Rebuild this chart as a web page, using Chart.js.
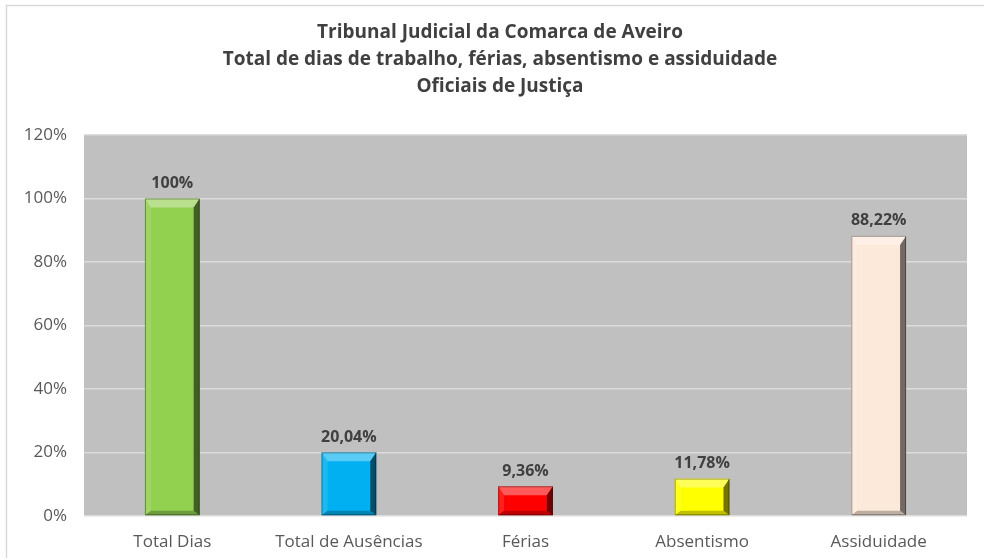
<!DOCTYPE html>
<html>
<head>
<meta charset="utf-8">
<script src="https://cdn.jsdelivr.net/npm/chart.js@4/dist/chart.umd.min.js"></script>
<style>
    html, body {margin: 0; padding: 0; background: #fff;}
    #wrap {width: 984px; height: 558px; position: relative;}
</style>
</head>
<body>
<div id="wrap"><canvas id="myChart" width="984" height="558"></canvas></div>
<script>
// chart data
const categories = ['Total Dias', 'Total de Ausências', 'Férias', 'Absentismo', 'Assiduidade'];
const percentValues = [100, 20.04, 9.36, 11.78, 88.22];
const barColors = ['#92D050', '#00B0F0', '#FF0000', '#FFFF00', '#FDE9D9'];
const titleLines = [
    'Tribunal Judicial da Comarca de Aveiro',
    'Total de dias de trabalho, férias, absentismo e assiduidade',
    'Oficiais de Justiça'
];
const yTicks = [0, 20, 40, 60, 80, 100, 120];

const fontFamily = '"Open Sans", "Noto Sans", sans-serif';

function formatPct(v) {
    return (Number.isInteger(v) ? String(v) : v.toFixed(2).replace('.', ',')) + '%';
}

// white page, outer border, gray plot area and the title block
const backgroundPlugin = {
    id: 'backgroundPlugin',
    beforeDraw(chart) {
        const {ctx, chartArea} = chart;
        ctx.save();
        ctx.fillStyle = '#fff';
        ctx.fillRect(0, 0, chart.width, chart.height);
        ctx.strokeStyle = '#d9d9d9';
        ctx.lineWidth = 1.5;
        ctx.beginPath();
        ctx.moveTo(6.5, chart.height);
        ctx.lineTo(6.5, 5.5);
        ctx.lineTo(chart.width, 5.5);
        ctx.stroke();
        ctx.fillStyle = '#C0C0C0';
        ctx.fillRect(chartArea.left, chartArea.top, chartArea.right - chartArea.left, chartArea.bottom - chartArea.top);
        // title, centred on the whole frame (not on the padded box)
        ctx.fillStyle = '#404040';
        ctx.font = 'bold 19px ' + fontFamily;
        ctx.textAlign = 'center';
        ctx.textBaseline = 'middle';
        titleLines.forEach((line, i) => {
            ctx.fillText(line, 500, 33 + i * 27);
        });
        ctx.restore();
    }
};

// bevel look on each bar + value labels
const bevelPlugin = {
    id: 'bevelPlugin',
    afterDatasetsDraw(chart) {
        const {ctx} = chart;
        const meta = chart.getDatasetMeta(0);
        meta.data.forEach((bar, i) => {
            const x0 = bar.x - bar.width / 2, x1 = bar.x + bar.width / 2;
            const y0 = bar.y, y1 = bar.base;
            const h = y1 - y0;
            const b = Math.min(9, h / 2.5);
            const s = Math.min(6, bar.width / 4);
            ctx.save();
            // top face
            ctx.fillStyle = 'rgba(255,255,255,0.35)';
            ctx.beginPath();
            ctx.moveTo(x0, y0); ctx.lineTo(x1, y0); ctx.lineTo(x1 - s, y0 + b); ctx.lineTo(x0 + s, y0 + b);
            ctx.closePath(); ctx.fill();
            // left face
            ctx.fillStyle = 'rgba(255,255,255,0.12)';
            ctx.beginPath();
            ctx.moveTo(x0, y0); ctx.lineTo(x0 + s, y0 + b); ctx.lineTo(x0 + s, y1 - b / 2); ctx.lineTo(x0, y1);
            ctx.closePath(); ctx.fill();
            // right face
            ctx.fillStyle = 'rgba(0,0,0,0.55)';
            ctx.beginPath();
            ctx.moveTo(x1, y0); ctx.lineTo(x1 - s, y0 + b); ctx.lineTo(x1 - s, y1 - b / 2); ctx.lineTo(x1, y1);
            ctx.closePath(); ctx.fill();
            // bottom face
            ctx.fillStyle = 'rgba(0,0,0,0.25)';
            ctx.beginPath();
            ctx.moveTo(x0, y1); ctx.lineTo(x0 + s, y1 - b / 2); ctx.lineTo(x1 - s, y1 - b / 2); ctx.lineTo(x1, y1);
            ctx.closePath(); ctx.fill();
            ctx.strokeStyle = 'rgba(0,0,0,0.35)';
            ctx.lineWidth = 1;
            ctx.strokeRect(x0 + 0.5, y0 + 0.5, bar.width - 1, h - 1);
            // label
            ctx.fillStyle = '#404040';
            ctx.font = 'bold 16px ' + fontFamily;
            ctx.textAlign = 'center';
            ctx.textBaseline = 'bottom';
            ctx.fillText(formatPct(percentValues[i]), bar.x, y0 - 7);
            ctx.restore();
        });
    }
};

const ctx = document.getElementById('myChart').getContext('2d');
new Chart(ctx, {
    type: 'bar',
    data: {
        labels: categories,
        datasets: [{
            data: percentValues,
            backgroundColor: barColors,
            borderWidth: 0,
            categoryPercentage: 1,
            barPercentage: 0.31
        }]
    },
    plugins: [backgroundPlugin, bevelPlugin],
    options: {
        responsive: false,
        animation: false,
        layout: {padding: {left: 0, right: 17, top: 135, bottom: 0}},
        plugins: {
            legend: {display: false},
            tooltip: {enabled: false},
            title: {display: false}
        },
        scales: {
            y: {
                min: 0,
                max: 120,
                afterBuildTicks(scale) {
                    scale.ticks = yTicks.map(v => ({value: v}));
                },
                afterFit(scale) { scale.width = 84; },
                grid: {color: '#DCDCDC', lineWidth: 1.5, drawTicks: false},
                border: {display: false},
                ticks: {
                    padding: 17,
                    color: '#595959',
                    font: {family: fontFamily, size: 17},
                    callback: v => v + '%'
                }
            },
            x: {
                afterFit(scale) { scale.height = 42; },
                grid: {display: false},
                border: {display: false},
                ticks: {
                    padding: 8,
                    color: '#595959',
                    font: {family: fontFamily, size: 17}
                }
            }
        }
    }
});
</script>
</body>
</html>
